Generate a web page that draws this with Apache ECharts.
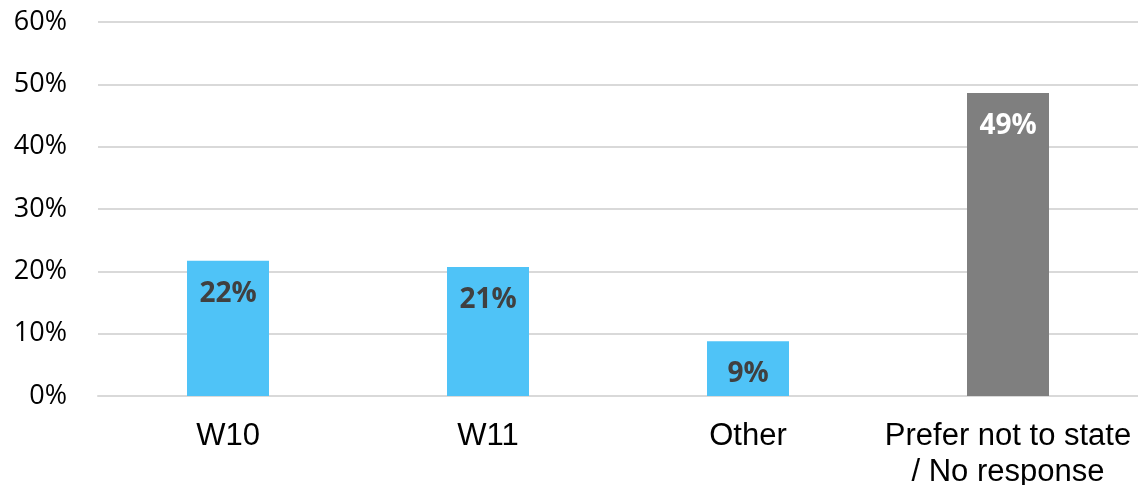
<!DOCTYPE html>
<html><head><meta charset="utf-8">
<script src="https://cdn.jsdelivr.net/npm/echarts@6/dist/echarts.min.js"></script>
<style>html,body{margin:0;padding:0;background:#fff}#c{width:1138px;height:485px}</style>
</head><body><div id="c"></div>
<script>
const categories = ['W10', 'W11', 'Other', 'Prefer not to state\n/ No response'];
const values = [21.7, 20.7, 8.8, 48.6];
const labels = ['22%', '21%', '9%', '49%'];
const barColors = ['#4FC3F7', '#4FC3F7', '#4FC3F7', '#7F7F7F'];
const labelColors = ['#404040', '#404040', '#404040', '#FFFFFF'];

const chart = echarts.init(document.getElementById('c'));
chart.setOption({
  animation: false,
  grid: { left: 98, right: 0, top: 22, bottom: 89, outerBoundsMode: 'none', containLabel: false },
  xAxis: {
    type: 'category', data: categories,
    axisLine: { show: true, lineStyle: { color: '#D9D9D9', width: 2 } },
    axisTick: { show: false },
    axisLabel: { interval: 0, fontFamily: 'Liberation Sans, Arial', fontSize: 31, color: '#000', margin: 22, lineHeight: 36 }
  },
  yAxis: {
    type: 'value', min: 0, max: 60, interval: 10,
    axisLine: { show: false }, axisTick: { show: false },
    splitLine: { lineStyle: { color: '#D9D9D9', width: 2 } },
    axisLabel: { formatter: '{value}%', fontFamily: 'Open Sans', fontSize: 27, color: '#000', margin: 31 }
  },
  series: [{
    type: 'bar', barWidth: 82,
    data: values.map((v, i) => ({
      value: v,
      itemStyle: { color: barColors[i] },
      label: { color: labelColors[i] }
    })),
    label: {
      show: true, position: 'insideTop', distance: 19,
      fontFamily: 'Open Sans', fontWeight: 'bold', fontSize: 28,
      formatter: p => labels[p.dataIndex]
    }
  }]
});
</script></body></html>
